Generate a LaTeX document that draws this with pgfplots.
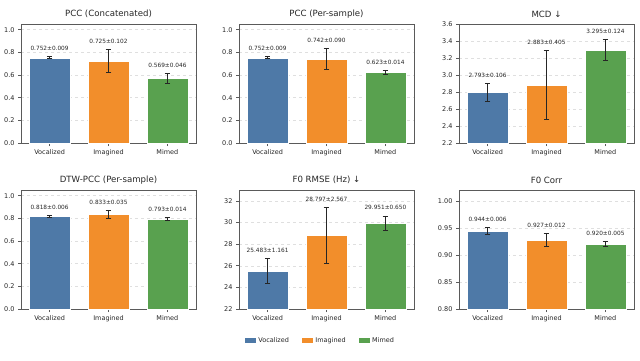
\documentclass[border=0pt]{standalone}
\usepackage{fontspec}
\setmainfont{DejaVu Sans}
\usepackage{pgfplots}
\pgfplotsset{compat=1.18}

\definecolor{cVoc}{HTML}{4E79A7}
\definecolor{cImg}{HTML}{F28E2B}
\definecolor{cMim}{HTML}{59A14F}
\definecolor{frame}{HTML}{5A5A5A}
\definecolor{txt}{HTML}{262626}

\pgfplotsset{
  panel/.style={
    width=175pt, height=119pt, scale only axis,
    anchor=south west,
    ybar, bar width=0.7, bar shift=0pt,
    xmin=-0.485, xmax=2.485,
    xtick={0,1,2}, xticklabels={Vocalized,Imagined,Mimed},
    tick pos=left, tick align=outside,
    major tick length=3pt,
    every tick/.style={frame, line width=0.6pt},
    axis line style={frame, line width=0.7pt},
    ymajorgrids, grid style={dashed, gray!25, line width=0.4pt},
    tick label style={font=\fontsize{6.5}{7.5}\selectfont, text=txt},
    /pgf/number format/assume math mode=true,
    title style={font=\fontsize{8.6}{10}\selectfont, text=txt, yshift=-3.5pt},
    error bars/y dir=both, error bars/y explicit,
    error bars/error bar style={black!85, line width=0.85pt},
    error bars/error mark options={black!85, line width=0.85pt, mark size=2.8pt, rotate=90},
    legend image code/.code={\fill[##1] (0pt,-2.5pt) rectangle (12pt,3.5pt);},
  },
  fix1/.style={yticklabel style={/pgf/number format/.cd, fixed, fixed zerofill, precision=1}},
  fix2/.style={yticklabel style={/pgf/number format/.cd, fixed, fixed zerofill, precision=2}},
}

\newcommand{\threebars}[6]{%
  \addplot[fill=cVoc, draw=white, line width=0.4pt] coordinates {(0,#1) +- (0,#2)};
  \addplot[fill=cImg, draw=white, line width=0.4pt] coordinates {(1,#3) +- (0,#4)};
  \addplot[fill=cMim, draw=white, line width=0.4pt] coordinates {(2,#5) +- (0,#6)};
}
\newcommand{\vlab}[2]{\node[font=\fontsize{5.8}{7}\selectfont, text=txt] at (axis cs:#1) {#2};}

\begin{document}
\begin{tikzpicture}
\useasboundingbox (0,0) rectangle (640pt,360pt);

% row 1
\begin{axis}[panel, fix1, at={(21pt,217pt)}, title={PCC (Concatenated)},
  ymin=0, ymax=1.05, ytick={0,0.2,...,1.0}]
  \threebars{0.752}{0.009}{0.725}{0.102}{0.569}{0.046}
  \vlab{0,0.8345}{0.752±0.009}
  \vlab{1,0.9005}{0.725±0.102}
  \vlab{2,0.6885}{0.569±0.046}
\end{axis}

\begin{axis}[panel, fix1, at={(239pt,217pt)}, title={PCC (Per-sample)},
  ymin=0, ymax=1.05, ytick={0,0.2,...,1.0}]
  \threebars{0.752}{0.009}{0.742}{0.090}{0.623}{0.014}
  \vlab{0,0.8345}{0.752±0.009}
  \vlab{1,0.9055}{0.742±0.090}
  \vlab{2,0.7105}{0.623±0.014}
\end{axis}

\begin{axis}[panel, fix1, at={(459pt,217pt)}, title={MCD ↓},
  ymin=2.2, ymax=3.6, ytick={2.2,2.4,...,3.61}]
  \threebars{2.793}{0.106}{2.883}{0.405}{3.295}{0.124}
  \vlab{0,2.997}{2.793±0.106}
  \vlab{1,3.386}{2.883±0.405}
  \vlab{2,3.517}{3.295±0.124}
\end{axis}

% row 2
\begin{axis}[panel, fix1, at={(21pt,51pt)}, title={DTW-PCC (Per-sample)},
  ymin=0, ymax=1.05, ytick={0,0.2,...,1.0}]
  \threebars{0.818}{0.006}{0.833}{0.035}{0.793}{0.014}
  \vlab{0,0.8975}{0.818±0.006}
  \vlab{1,0.9415}{0.833±0.035}
  \vlab{2,0.8805}{0.793±0.014}
\end{axis}

\begin{axis}[panel, at={(239pt,51pt)}, title={F0 RMSE (Hz) ↓},
  ymin=22, ymax=33, ytick={22,24,...,32},
  legend columns=3,
  legend style={at={(0.463,-0.269)}, anchor=center, draw=none, fill=none,
    font=\fontsize{6.5}{7.5}\selectfont, text=txt,
    /tikz/every even column/.append style={column sep=10pt}},
  legend cell align=left]
  \threebars{25.483}{1.161}{28.797}{2.567}{29.951}{0.650}
  \vlab{0,27.414}{25.483±1.161}
  \vlab{1,32.134}{28.797±2.567}
  \vlab{2,31.371}{29.951±0.650}
  \legend{Vocalized,Imagined,Mimed}
\end{axis}

\begin{axis}[panel, fix2, at={(459pt,51pt)}, title={F0 Corr},
  ymin=0.8, ymax=1.02, ytick={0.80,0.85,0.90,0.95,1.00}]
  \threebars{0.944}{0.006}{0.927}{0.012}{0.920}{0.005}
  \vlab{0,0.9654}{0.944±0.006}
  \vlab{1,0.9544}{0.927±0.012}
  \vlab{2,0.9404}{0.920±0.005}
\end{axis}
\end{tikzpicture}
\end{document}
